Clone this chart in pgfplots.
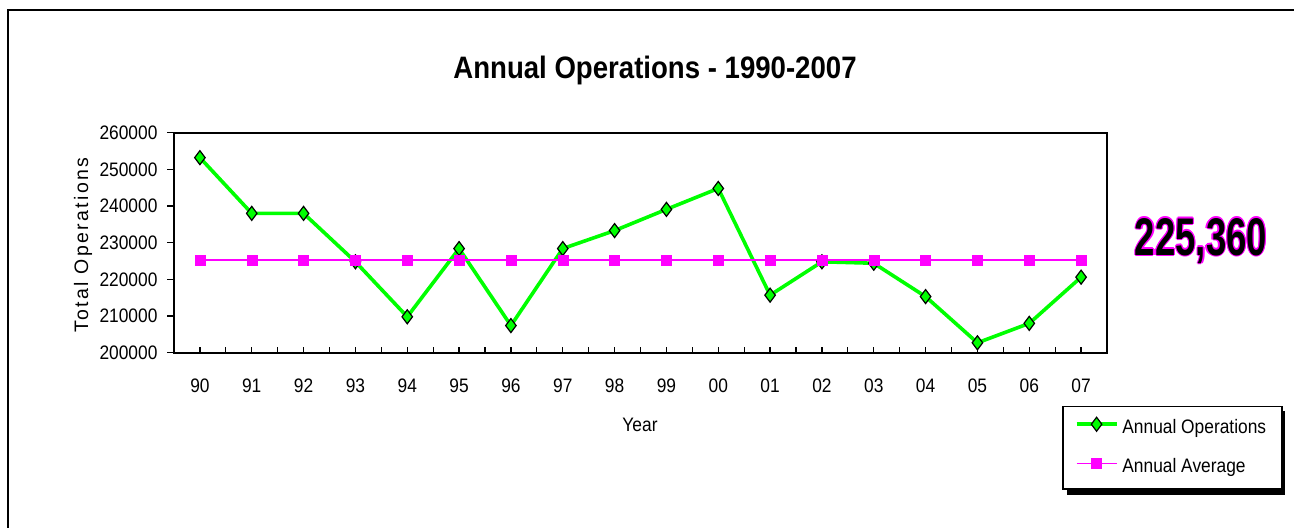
\documentclass[border=0pt]{standalone}
\usepackage{fontspec}
\setmainfont{Liberation Sans}[FakeStretch=0.89]
\newfontfamily\plainfont{Liberation Sans}
\newfontfamily\bigfont{Liberation Sans}[FakeStretch=0.69]
\usepackage{pgfplots}
\pgfplotsset{compat=1.18}
\definecolor{lgreen}{RGB}{0,255,0}
\definecolor{mag}{RGB}{255,0,255}
\begin{document}
\begin{tikzpicture}
\path[use as bounding box] (0,0) rectangle (647pt,263.5pt);
\draw[line width=0.9pt] (4pt,-5pt) -- (4pt,258.5pt) -- (660pt,258.5pt);
% legend shadow
\fill[black] (533.5pt,16pt) rectangle (642.5pt,58pt);
\begin{axis}[
  at={(87pt,87.15pt)}, anchor=south west,
  scale only axis, width=466.5pt, height=110pt,
  xmin=-0.5, xmax=17.5, ymin=200000, ymax=260000,
  xtick={0,...,17},
  xticklabels={90,91,92,93,94,95,96,97,98,99,00,01,02,03,04,05,06,07},
  minor xtick={-0.5,0.5,...,17.5},
  ytick={200000,210000,220000,230000,240000,250000,260000},
  yticklabels={200000,210000,220000,230000,240000,250000,260000},
  scaled y ticks=false,
  tick align=inside, major tick length=3pt, minor tick length=3pt,
  xtick pos=left, ytick pos=left,
  ytick style={xshift=-3.3pt},
  tick style={black, line width=0.6pt},
  axis line style={line width=0.8pt},
  font=\fontsize{9.75}{11}\selectfont,
  yticklabel style={xshift=-4.75pt},
  xticklabel style={anchor=center, yshift=-16.4pt},
  legend cell align=left,
  legend style={at={(0.9518,-0.242)}, anchor=north west, draw=black, line width=0.75pt,
    fill=white, row sep=7pt, inner xsep=6pt, inner ysep=4.5pt,
    font=\fontsize{9.75}{11}\selectfont},
  legend image code/.code={\draw[mark repeat=2,mark phase=2,#1] plot coordinates {(0pt,2pt) (10pt,2pt) (20pt,2pt)};},
]
\addplot[color=lgreen, line width=1.8pt, mark=diamond*, mark size=3.5pt,
  mark options={fill=lgreen, draw=black, line width=0.6pt}] coordinates {
  (0,253200) (1,238000) (2,238000) (3,224800) (4,209800) (5,228400)
  (6,207400) (7,228400) (8,233300) (9,239100) (10,244800) (11,215700)
  (12,224800) (13,224400) (14,215300) (15,202700) (16,208000) (17,220600)};
\addplot[color=mag, line width=0.8pt, mark=square*, mark size=2.5pt,
  mark options={fill=mag, draw=mag, line width=0.2pt}] coordinates {
  (0,225360) (1,225360) (2,225360) (3,225360) (4,225360) (5,225360)
  (6,225360) (7,225360) (8,225360) (9,225360) (10,225360) (11,225360)
  (12,225360) (13,225360) (14,225360) (15,225360) (16,225360) (17,225360)};
\legend{Annual Operations, Annual Average}
\end{axis}
\node[font=\bfseries\fontsize{15.5}{18}\selectfont] at (327.5pt,228.5pt) {Annual Operations - 1990-2007};
\node[font=\fontsize{9.75}{11}\selectfont] at (320pt,51pt) {Year};
\node[rotate=90, font=\plainfont\fontsize{9.75}{11}\selectfont\addfontfeature{LetterSpace=12}] at (41.5pt,141pt) {Total Operations};
\foreach \dx/\dy in {0.6/0,-0.6/0,0/0.6,0/-0.6,0.45/0.45,-0.45/0.45,0.45/-0.45,-0.45/-0.45}
  \node[mag, anchor=base, font=\bigfont\bfseries\fontsize{26.5}{30}\selectfont] at ({600.5pt+\dx pt},{136pt+\dy pt}) {225,360};
\node[black, anchor=base, font=\bigfont\bfseries\fontsize{26.5}{30}\selectfont] at (600.5pt,136pt) {225,360};
\end{tikzpicture}
\end{document}
